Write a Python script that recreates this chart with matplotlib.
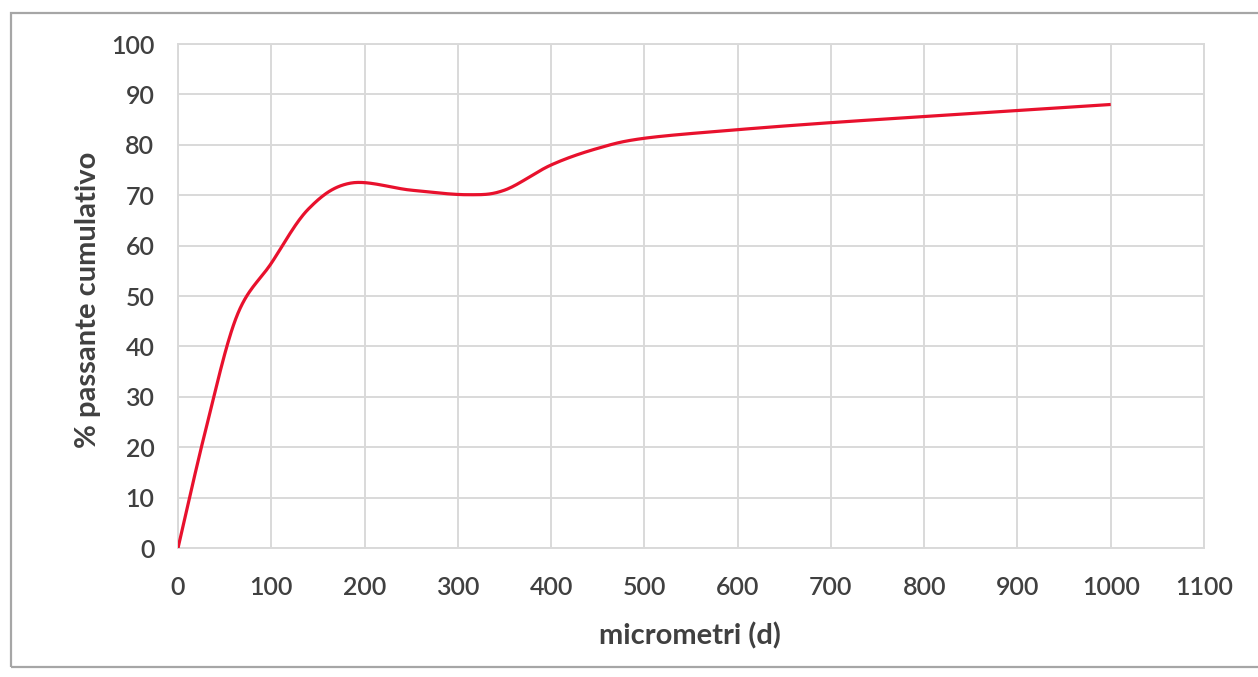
import numpy as np
import matplotlib
matplotlib.use('Agg')
import matplotlib.pyplot as plt
from matplotlib.patches import Rectangle

# ── Data ──────────────────────────────────────────────────
micrometri = [0, 30, 63, 100, 140, 185, 250, 310, 350, 400, 450, 500, 600, 700, 800, 900, 1000]
passante   = [0, 23.7, 46, 56.5, 67.3, 72.4, 71.0, 70.1, 71.0, 76.0, 79.3, 81.3, 83.0, 84.4, 85.6, 86.8, 88.0]

x_ticks = list(range(0, 1101, 100))
y_ticks = list(range(0, 101, 10))

TEXT_COL = '#404040'
GRID_COL = '#d9d9d9'
LINE_COL = '#e8112d'
FONT     = ['Lato', 'DejaVu Sans']


# ── Excel-like smoothed line (Bezier, tension 1/6) ────────
def smooth(xs, ys, n=30):
    p = np.column_stack([xs, ys]).astype(float)
    out = []
    for i in range(len(p) - 1):
        p0 = p[i - 1] if i > 0 else p[i]
        p1, p2 = p[i], p[i + 1]
        p3 = p[i + 2] if i + 2 < len(p) else p[i + 1]
        c1 = p1 + (p2 - p0) / 6
        c2 = p2 - (p3 - p1) / 6
        t = np.linspace(0, 1, n)[:, None]
        seg = ((1 - t) ** 3) * p1 + 3 * ((1 - t) ** 2) * t * c1 \
            + 3 * (1 - t) * t ** 2 * c2 + t ** 3 * p2
        out.append(seg if i == 0 else seg[1:])
    seg = np.vstack(out)
    return seg[:, 0], seg[:, 1]


fig = plt.figure(figsize=(12.58, 6.77), dpi=100)
ax = fig.add_axes([0.1415, 0.1905, 0.8156, 0.7445])

sx, sy = smooth(micrometri, passante)
ax.plot(sx, sy, color=LINE_COL, lw=2.3, solid_capstyle='butt', zorder=3)

ax.set_xlim(0, 1100)
ax.set_ylim(0, 100)
ax.set_xticks(x_ticks)
ax.set_yticks(y_ticks)
ax.grid(True, color=GRID_COL, lw=1.4)
ax.set_axisbelow(True)
for s in ax.spines.values():
    s.set_color(GRID_COL)
    s.set_linewidth(1.4)

ax.tick_params(length=0, labelsize=18, labelcolor=TEXT_COL)
ax.tick_params(axis='x', pad=20)
ax.tick_params(axis='y', pad=17)
for lab in ax.get_xticklabels() + ax.get_yticklabels():
    lab.set_family(FONT)
    lab.set_fontweight('semibold')

ax.set_xlabel('micrometri (d)', fontsize=21, fontweight='bold',
              color=TEXT_COL, family=FONT)
ax.set_ylabel('% passante cumulativo', fontsize=21, fontweight='bold',
              color=TEXT_COL, family=FONT)
ax.xaxis.set_label_coords(0.499, -0.175)
ax.yaxis.set_label_coords(-0.088, 0.492)
ax.xaxis.label.set_va('center')
ax.yaxis.label.set_va('center')

# outer chart border (right side runs off the image)
fig.patches.append(Rectangle((11 / 1258, 10 / 677), 1.1, 654 / 677,
                             transform=fig.transFigure, fill=False,
                             edgecolor='#a6a6a6', lw=1.6))

fig.savefig('out.png', dpi=100, facecolor='white')
